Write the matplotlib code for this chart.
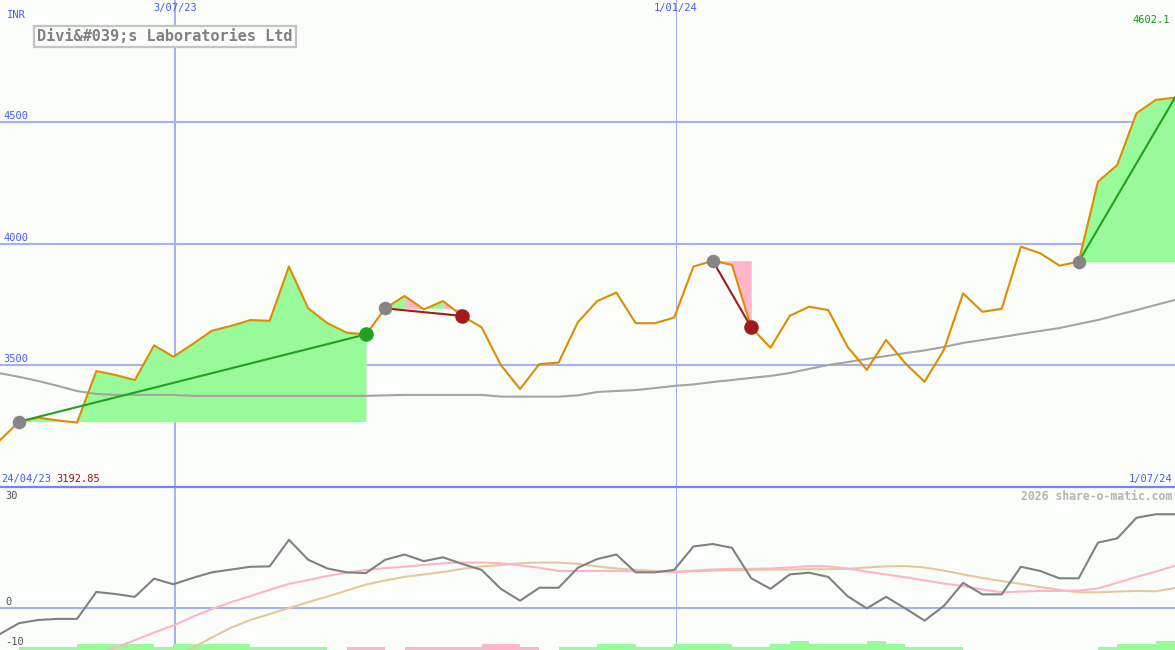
import matplotlib
matplotlib.use("Agg")
import matplotlib.pyplot as plt
from matplotlib.patches import Rectangle

# ---------------- data ----------------
title = "Divi&#039;s Laboratories Ltd"
currency = "INR"
first_date_label = "24/04/23"
last_date_label = "1/07/24"
first_close = "3192.85"
last_close = "4602.1"
vline_labels = ["3/07/23", "1/01/24"]
vline_pos = [9.08, 35.08]          # week index of the date gridlines
vline_width = [2.0, 1.0]

price = [3193, 3269, 3285, 3274, 3265, 3477, 3461, 3440, 3583, 3536,
         3588, 3643, 3663, 3687, 3684, 3907, 3735, 3674, 3635, 3628,
         3735, 3786, 3731, 3765, 3704, 3657, 3502, 3403, 3506, 3512,
         3678, 3765, 3800, 3674, 3674, 3697, 3907, 3931, 3914, 3657,
         3573, 3704, 3742, 3728, 3577, 3482, 3605, 3509, 3433, 3564,
         3797, 3721, 3733, 3989, 3962, 3911, 3927, 4256, 4325, 4538,
         4593, 4602.1]

ma_long = [3468, 3453, 3436, 3416, 3395, 3383, 3379, 3379, 3379, 3379,
           3375, 3375, 3375, 3375, 3375, 3375, 3375, 3375, 3375, 3375,
           3377, 3379, 3379, 3379, 3379, 3379, 3372, 3372, 3372, 3372,
           3377, 3391, 3395, 3399, 3407, 3416, 3422, 3432, 3440, 3449,
           3457, 3469, 3486, 3502, 3514, 3527, 3539, 3551, 3562, 3576,
           3593, 3605, 3617, 3630, 3642, 3654, 3671, 3687, 3708, 3728,
           3749, 3770]

price_ticks = [4500, 4000, 3500]

# lower panel (oscillator) values
momentum = [-7.5, -4.4, -3.5, -3.2, -3.2, 4.5, 3.9, 3.1, 8.3, 6.7,
            8.5, 10.1, 10.9, 11.7, 11.8, 19.4, 13.7, 11.2, 10.1, 9.9,
            13.7, 15.2, 13.3, 14.4, 12.5, 10.8, 5.4, 2.0, 5.7, 5.7,
            11.4, 13.9, 15.2, 10.1, 10.1, 10.8, 17.5, 18.2, 17.1, 8.4,
            5.4, 9.5, 10.0, 8.8, 3.3, -0.2, 3.1, -0.2, -3.7, 0.5,
            7.1, 3.8, 3.8, 11.7, 10.5, 8.4, 8.4, 18.6, 19.8, 25.7,
            26.7, 26.7]

nan = float("nan")
signal_fast = [nan, nan, nan, nan, nan, -13.2, -11.4, -9.3, -7.1, -5.1,
               -2.6, -0.4, 1.6, 3.3, 5.1, 6.8, 7.9, 9.1, 10.0, 10.8,
               11.3, 11.7, 12.2, 12.7, 12.9, 12.9, 12.7, 12.1, 11.4, 10.5,
               10.5, 10.5, 10.5, 10.4, 10.3, 10.1, 10.6, 10.9, 11.1, 11.1,
               11.2, 11.5, 11.9, 11.8, 11.2, 10.3, 9.5, 8.7, 7.8, 6.9,
               6.2, 5.2, 4.4, 4.6, 4.8, 4.8, 4.9, 5.5, 7.1, 8.8,
               10.3, 12.0]

signal_slow = [nan, nan, nan, nan, nan, nan, nan, nan, nan, -14.0,
               -11.5, -8.5, -5.7, -3.5, -1.8, -0.1, 1.6, 3.2, 4.9, 6.6,
               7.8, 8.8, 9.5, 10.2, 11.1, 11.8, 12.2, 12.7, 12.9, 12.9,
               12.5, 11.8, 11.2, 10.8, 10.5, 10.3, 10.4, 10.6, 10.7, 10.8,
               10.9, 10.9, 11.0, 11.0, 11.1, 11.5, 11.8, 11.9, 11.5, 10.6,
               9.5, 8.5, 7.6, 6.8, 5.9, 5.1, 4.4, 4.4, 4.6, 4.8,
               4.7, 5.6]

# bottom histogram steps (positive = green, negative = pink)
hist = [0, 1, 1, 1, 2, 2, 2, 2, 1, 2,
        2, 2, 2, 1, 1, 1, 1, 0, -1, -1,
        0, -1, -1, -1, -1, -2, -2, -1, 0, 1,
        1, 2, 2, 1, 1, 2, 2, 2, 1, 1,
        2, 3, 2, 2, 2, 3, 2, 1, 1, 1,
        0, 0, 0, 0, 0, 0, 0, 1, 2, 2,
        3]

osc_ticks = [30, 0, -10]

# trades: (entry index, exit index, outcome)
trades = [(1, 19, "win"), (20, 24, "loss"), (37, 39, "loss"), (56, 61, "win")]
trade2_fill_colors = ["g", "p", "g", "p"]

# ---------------- style ----------------
BG = "#fbfdfb"
GRID = "#a4b2f2"
SEP = "#7484f0"
BLUE_TXT = "#4a5cf0"
ORANGE = "#de8c00"
MA_GRAY = "#a4a4a4"
MOM_GRAY = "#808080"
PINK_LINE = "#ffb3c8"
TAN_LINE = "#e3c99a"
FILL_G = "#98fa98"
FILL_P = "#ffb6c8"
LINE_G = "#22a022"
LINE_R = "#a01c1c"
MONO = "DejaVu Sans Mono"

W, H = 1175, 650
fig = plt.figure(figsize=(W / 100, H / 100), dpi=100, facecolor=BG)
split = 487
ax = fig.add_axes([0, (H - split) / H, 1, split / H])
ax2 = fig.add_axes([0, 0, 1, (H - split) / H])
for a in (ax, ax2):
    a.set_facecolor(BG)
    a.set_xlim(0, 61)
    a.axis("off")

x = list(range(len(price)))

# ---------------- main panel ----------------
ax.set_ylim(3000, 5004)
for t in price_ticks:
    ax.axhline(t, color=GRID, lw=1.5, zorder=1)
for p, w in zip(vline_pos, vline_width):
    ax.axvline(p, color=GRID, lw=w * 0.72, zorder=1)
    ax2.axvline(p, color=GRID, lw=w * 0.72, zorder=1)

# trade fills
for (i0, i1, res) in trades:
    xs = x[i0:i1 + 1]
    ys = price[i0:i1 + 1]
    base = price[i0]
    if (i0, i1) == (20, 24):
        for j, c in enumerate(trade2_fill_colors):
            ax.fill_between(xs[j:j + 2], ys[j:j + 2], base,
                            color=FILL_G if c == "g" else FILL_P, lw=0, zorder=2)
    else:
        ax.fill_between(xs, ys, base, color=FILL_G if res == "win" else FILL_P,
                        lw=0, zorder=2)

ax.plot(x, ma_long, color=MA_GRAY, lw=1.5, zorder=3)
ax.plot(x, price, color=ORANGE, lw=1.5, zorder=4)

for (i0, i1, res) in trades:
    col = LINE_G if res == "win" else LINE_R
    ax.plot([i0, i1], [price[i0], price[i1]], color=col, lw=1.5, zorder=5)
    ax.scatter([i0], [price[i0]], s=95, color="#858585", zorder=6, lw=0)
    if i1 != len(price) - 1:
        ax.scatter([i1], [price[i1]], s=110, color=col, zorder=6, lw=0)

# ---------------- lower panel ----------------
px_per_unit = 3.5
ax2.set_ylim(-(650 - 607.7) / px_per_unit, (607.7 - 487) / px_per_unit)
ylo = ax2.get_ylim()[0]
ax2.axhline(0, color=GRID, lw=1.5, zorder=1)
ax2.plot(x, signal_slow, color=TAN_LINE, lw=1.5, zorder=3)
ax2.plot(x, signal_fast, color=PINK_LINE, lw=1.5, zorder=3)
ax2.plot(x, momentum, color=MOM_GRAY, lw=1.5, zorder=4)
for i, hv in enumerate(hist):
    if hv == 0:
        continue
    hgt = abs(hv) * 3 / px_per_unit
    ax2.add_patch(Rectangle((i, ylo), 1, hgt, color=FILL_G if hv > 0 else FILL_P,
                            lw=0, zorder=2))
ax2.axhline(ax2.get_ylim()[1], color=SEP, lw=1.6, zorder=5, clip_on=False)

# ---------------- text ----------------
def ftext(px, py, s, **kw):
    fig.text(px / W, 1 - py / H, s, family=MONO, **kw)

ftext(7, 15, currency, color=BLUE_TXT, fontsize=7.5, ha="left", va="center")
for p, lab in zip(vline_pos, vline_labels):
    ftext(p * W / 61, 8, lab, color=BLUE_TXT, fontsize=7.5, ha="center", va="center")
ftext(1170, 20, last_close, color="#109a10", fontsize=7.5, ha="right", va="center")

ftext(37, 36.5, title, color="#808080", fontsize=11, ha="left", va="center",
      fontweight="bold",
      bbox=dict(boxstyle="square,pad=0.22", facecolor=BG, edgecolor="#c4c4c4", lw=1.6))

tick_y = {4500: 116, 4000: 238, 3500: 359}
for t in price_ticks:
    ftext(3, tick_y[t], str(t), color=BLUE_TXT, fontsize=7.5, ha="left", va="center")

ftext(1, 479, first_date_label, color=BLUE_TXT, fontsize=7.5, ha="left", va="center")
ftext(56, 479, first_close, color="#a01414", fontsize=7.5, ha="left", va="center")
ftext(1172, 479, last_date_label, color=BLUE_TXT, fontsize=7.5, ha="right", va="center")
ftext(1172, 496, "2026 share-o-matic.com", color="#b4b4b4", fontsize=8.3,
      ha="right", va="center", fontweight="bold")

osc_y = {30: 496, 0: 602, -10: 642}
for t in osc_ticks:
    ftext(5, osc_y[t], str(t), color="#505050", fontsize=7.5, ha="left", va="center")

fig.savefig("out.png", dpi=100, facecolor=BG)
